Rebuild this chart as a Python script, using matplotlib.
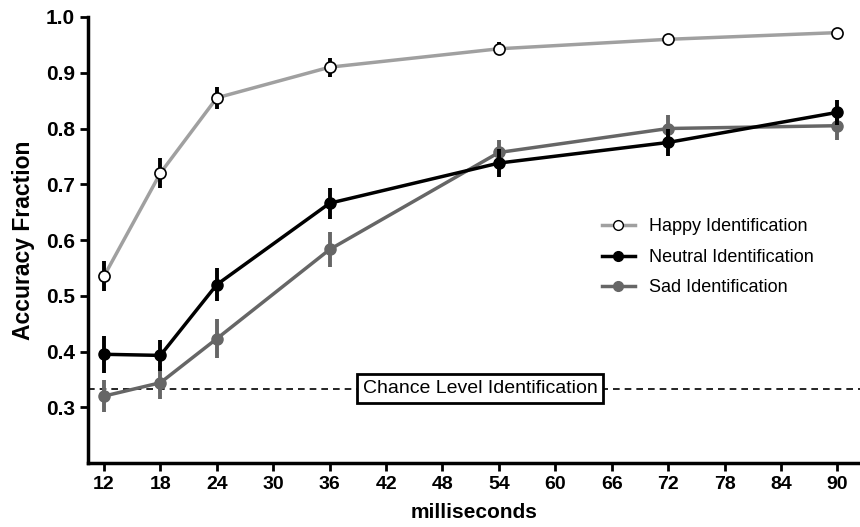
import numpy as np
import matplotlib
matplotlib.use('Agg')
import matplotlib.pyplot as plt
from matplotlib.lines import Line2D

plt.rcParams['font.family'] = ['Liberation Sans', 'DejaVu Sans']

# data
ms = [12, 18, 24, 36, 54, 72, 90]
happy = [0.535, 0.720, 0.855, 0.910, 0.943, 0.960, 0.972]
happy_err = [0.027, 0.027, 0.020, 0.017, 0.012, 0.007, 0.007]
neutral = [0.395, 0.393, 0.520, 0.666, 0.738, 0.775, 0.829]
neutral_err = [0.033, 0.028, 0.030, 0.028, 0.025, 0.025, 0.023]
sad = [0.320, 0.344, 0.423, 0.583, 0.757, 0.800, 0.805]
sad_err = [0.028, 0.030, 0.035, 0.032, 0.023, 0.025, 0.025]
chance = 1 / 3
x_ticks = list(range(12, 91, 6))
y_ticks = [0.3, 0.4, 0.5, 0.6, 0.7, 0.8, 0.9, 1.0]

fig = plt.figure(figsize=(8.6, 5.27), dpi=100)
ax = fig.add_axes([88 / 860, 1 - 463 / 527, (860 - 88) / 860, (463 - 17) / 527])

ax.axhline(chance, color='black', lw=1.2, ls=(0, (4, 3)), zorder=1)

ax.errorbar(ms, sad, yerr=sad_err, color='#666666', lw=2.5, elinewidth=2.8,
            capsize=0, marker='o', ms=8, mfc='#666666', mec='#666666',
            label='Sad Identification', zorder=2)
ax.errorbar(ms, neutral, yerr=neutral_err, color='black', lw=2.5, elinewidth=2.8,
            capsize=0, marker='o', ms=8, mfc='black', mec='black',
            label='Neutral Identification', zorder=3)
ax.plot(ms, happy, color='#a0a0a0', lw=2.5, zorder=4)
ax.errorbar(ms, happy, yerr=happy_err, fmt='none', ecolor='black', elinewidth=2.8,
            capsize=0, zorder=4)
ax.plot(ms, happy, ls='none', marker='o', ms=8, mfc='white', mec='black',
        mew=1.2, zorder=5)

ax.text(52, chance, 'Chance Level Identification', fontsize=14, ha='center', va='center',
        bbox=dict(boxstyle='square,pad=0.3', fc='white', ec='black', lw=2), zorder=6)

# legend
handles = [
    Line2D([], [], color='#a0a0a0', lw=2.5, marker='o', ms=7, mfc='white', mec='black'),
    Line2D([], [], color='black', lw=2.5, marker='o', ms=7, mfc='black', mec='black'),
    Line2D([], [], color='#666666', lw=2.5, marker='o', ms=7, mfc='#666666', mec='#666666'),
]
labels = ['Happy Identification', 'Neutral Identification', 'Sad Identification']
ax.legend(handles, labels, loc='upper left', bbox_to_anchor=(0.645, 0.585), frameon=False,
          fontsize=13, handlelength=1.8, handletextpad=0.8, labelspacing=0.75)

ax.set_xlim(10.3, 92.4)
ax.set_ylim(0.2, 1.0)
ax.set_xticks(x_ticks)
ax.set_yticks(y_ticks)
ax.set_yticklabels([f'{v:.1f}' for v in y_ticks])
ax.tick_params(axis='both', width=2, length=6, labelsize=14)
ax.tick_params(axis='y', labelsize=15)
for lbl in ax.get_xticklabels() + ax.get_yticklabels():
    lbl.set_fontweight('bold')

ax.spines['top'].set_visible(False)
ax.spines['right'].set_visible(False)
ax.spines['left'].set_linewidth(2.5)
ax.spines['bottom'].set_linewidth(2.5)

ax.set_xlabel('milliseconds', fontsize=15, fontweight='bold', labelpad=7)
ax.set_ylabel('Accuracy Fraction', fontsize=16.5, fontweight='bold', labelpad=8)

fig.savefig('out.png', dpi=100)
